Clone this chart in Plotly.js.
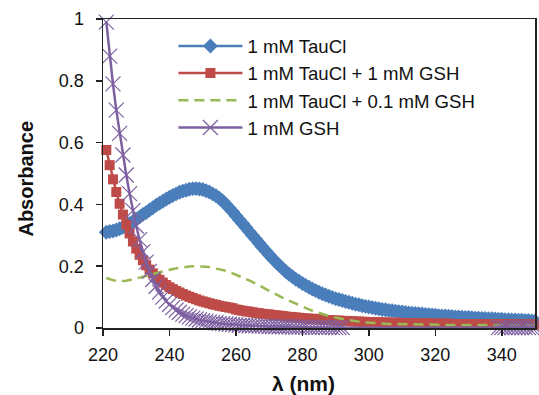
<!DOCTYPE html>
<html>
<head>
<meta charset="utf-8">
<script src="https://cdn.plot.ly/plotly-3.0.1.min.js"></script>
<style>
html,body{margin:0;padding:0;background:#fff;}
#chart{width:539px;height:395px;}
</style>
</head>
<body>
<div id="chart"></div>
<script>
// Wavelength (nm)
const wavelength = [
221,222,223,224,225,226,227,228,229,230,231,232,233,234,235,236,237,238,239,240,
241,242,243,244,245,246,247,248,249,250,251,252,253,254,255,256,257,258,259,260,
261,262,263,264,265,266,267,268,269,270,271,272,273,274,275,276,277,278,279,280,
281,282,283,284,285,286,287,288,289,290,291,292,293,294,295,296,297,298,299,300,
301,302,303,304,305,306,307,308,309,310,311,312,313,314,315,316,317,318,319,320,
321,322,323,324,325,326,327,328,329,330,331,332,333,334,335,336,337,338,339,340,
341,342,343,344,345,346,347,348,349,350];

// 1 mM TauCl
const tauCl = [
.310,.312,.314,.317,.321,.326,.332,.338,.345,.352,.359,.367,.374,.382,.389,.397,.404,.410,.417,.423,
.429,.434,.439,.443,.446,.449,.451,.451,.450,.448,.444,.440,.434,.428,.420,.411,.400,.388,.376,.363,
.350,.338,.325,.312,.299,.287,.274,.261,.249,.237,.225,.214,.203,.193,.183,.174,.166,.158,.151,.144,
.138,.132,.126,.121,.116,.111,.107,.103,.099,.095,.092,.089,.086,.083,.080,.077,.075,.072,.070,.068,
.066,.064,.062,.060,.059,.057,.056,.054,.053,.052,.050,.049,.048,.047,.046,.045,.044,.043,.042,.041,
.040,.039,.039,.038,.037,.036,.036,.035,.034,.034,.033,.032,.032,.031,.031,.030,.030,.029,.028,.028,
.027,.027,.026,.026,.025,.025,.024,.024,.023,.023];

// 1 mM TauCl + 1 mM GSH
const tauClGsh1 = [
.576,.527,.481,.440,.402,.367,.335,.306,.280,.257,.237,.219,.203,.189,.177,.166,.156,.147,.139,.132,
.126,.120,.115,.110,.105,.101,.097,.093,.089,.086,.083,.080,.077,.075,.072,.070,.068,.066,.064,.060,
.058,.056,.054,.053,.051,.049,.048,.046,.045,.044,.042,.041,.040,.039,.037,.036,.035,.034,.033,.032,
.031,.030,.030,.029,.028,.027,.026,.026,.025,.024,.024,.023,.023,.022,.022,.021,.021,.020,.020,.019,
.019,.019,.018,.018,.018,.017,.017,.017,.017,.016,.016,.016,.016,.015,.015,.015,.015,.015,.014,.014,
.014,.014,.014,.014,.013,.013,.013,.013,.013,.013,.013,.013,.012,.012,.012,.012,.012,.012,.012,.012,
.012,.012,.012,.011,.011,.011,.011,.011,.011,.011];

// 1 mM TauCl + 0.1 mM GSH
const tauClGsh01 = [
.162,.158,.155,.153,.152,.152,.153,.155,.157,.160,.163,.166,.169,.172,.175,.178,.181,.184,.187,.189,
.191,.193,.195,.197,.198,.199,.200,.200,.200,.199,.198,.197,.195,.193,.191,.188,.185,.181,.177,.173,
.169,.164,.159,.154,.149,.143,.138,.132,.126,.121,.115,.109,.104,.098,.093,.088,.083,.078,.073,.069,
.064,.060,.056,.052,.049,.045,.042,.039,.036,.034,.031,.029,.027,.025,.023,.022,.020,.019,.018,.017,
.016,.015,.015,.014,.014,.013,.013,.013,.012,.012,.012,.012,.011,.011,.011,.011,.011,.011,.011,.011,
.010,.010,.010,.010,.010,.010,.010,.010,.010,.010,.010,.010,.010,.010,.010,.010,.010,.010,.010,.010,
.010,.010,.010,.010,.010,.010,.010,.010,.010,.010];

// 1 mM GSH (no readings shown between 293 and 338 nm)
const gsh = [
.990,.880,.790,.705,.630,.560,.495,.435,.380,.330,.286,.247,.213,.183,.157,.135,.116,.100,.087,.076,
.066,.058,.051,.045,.040,.036,.032,.029,.026,.024,.022,.020,.018,.017,.015,.014,.013,.012,.011,.010,
.009,.009,.008,.008,.007,.007,.006,.006,.006,.005,.005,.005,.004,.004,.004,.004,.003,.003,.003,.003,
.003,.002,.002,.002,.002,.002,.002,.002,.001,.001,.001,.001,null,null,null,null,null,null,null,null,
null,null,null,null,null,null,null,null,null,null,null,null,null,null,null,null,null,null,null,null,
null,null,null,null,null,null,null,null,null,null,null,null,null,null,null,null,null,null,.001,.001,
.001,.001,.001,.001,.001,.001,.001,.001,.001,.001];

const seriesNames = ['1 mM TauCl','1 mM TauCl + 1 mM GSH','1 mM TauCl + 0.1 mM GSH','1 mM GSH'];
const xTicks = [220,240,260,280,300,320,340];
const yTicks = [0,0.2,0.4,0.6,0.8,1];
const yTickText = ['0','0.2','0.4','0.6','0.8','1'];
const xTitle = 'λ (nm)';
const yTitle = 'Absorbance';

const FONT = 'Liberation Sans, Arial, Helvetica, sans-serif';
const C_BLUE = '#4A7EBB', C_RED = '#BE4B48', C_GREEN = '#98B954', C_PURPLE = '#7D60A0';

const traces = [
  {x: wavelength, y: tauCl, name: seriesNames[0], type: 'scatter', mode: 'lines+markers',
   cliponaxis: false,
   line: {color: C_BLUE, width: 2.5},
   marker: {symbol: 'diamond', size: 11.5, color: C_BLUE}},
  {x: wavelength, y: tauClGsh1, name: seriesNames[1], type: 'scatter', mode: 'lines+markers',
   cliponaxis: false,
   line: {color: C_RED, width: 2.5},
   marker: {symbol: 'square', size: 10, color: C_RED}},
  {x: wavelength, y: tauClGsh01, name: seriesNames[2], type: 'scatter', mode: 'lines',
   line: {color: C_GREEN, width: 2.5, dash: '10px,6px'}},
  {x: wavelength, y: gsh, name: seriesNames[3], type: 'scatter', mode: 'lines+markers',
   cliponaxis: false, connectgaps: true,
   line: {color: C_PURPLE, width: 2.5},
   marker: {symbol: 'x-thin', size: 15, color: C_PURPLE, line: {color: C_PURPLE, width: 1.2}}}
];

const layout = {
  width: 539, height: 395,
  margin: {l: 103, r: 4, t: 19, b: 67, pad: 0},
  paper_bgcolor: '#fff', plot_bgcolor: '#fff',
  font: {family: FONT, size: 18, color: '#111'},
  showlegend: true,
  legend: {x: 0.163, y: 0.973, xanchor: 'left', yanchor: 'top',
           bgcolor: 'rgba(255,255,255,0)', borderwidth: 0,
           font: {family: FONT, size: 18.6, color: '#111'},
           itemwidth: 64, tracegroupgap: 0},
  xaxis: {range: [220, 350], tickvals: xTicks, ticktext: xTicks.map(String),
          showgrid: false, zeroline: false,
          showline: true, mirror: true, linecolor: '#222', linewidth: 1.5,
          ticks: 'outside', ticklen: 6, tickwidth: 1.5, tickcolor: '#222',
          ticklabelstandoff: 4,
          tickfont: {family: FONT, size: 18, color: '#111'}},
  yaxis: {range: [0, 1], tickvals: yTicks, ticktext: yTickText,
          showgrid: false, zeroline: false,
          showline: true, mirror: true, linecolor: '#222', linewidth: 1.5,
          ticks: 'outside', ticklen: 6, tickwidth: 1.5, tickcolor: '#222',
          ticklabelstandoff: 8,
          tickfont: {family: FONT, size: 18, color: '#111'}},
  annotations: [
    {text: '<b>' + xTitle + '</b>', xref: 'paper', yref: 'paper',
     x: 0.463, y: -0.178, xanchor: 'center', yanchor: 'middle', showarrow: false,
     font: {family: FONT, size: 21, color: '#111'}},
    {text: '<b>' + yTitle + '</b>', xref: 'paper', yref: 'paper', textangle: -90,
     x: -0.178, y: 0.484, xanchor: 'center', yanchor: 'middle', showarrow: false,
     font: {family: FONT, size: 20, color: '#111'}}
  ]
};

Plotly.newPlot('chart', traces, layout, {displayModeBar: false, staticPlot: true});
</script>
</body>
</html>
